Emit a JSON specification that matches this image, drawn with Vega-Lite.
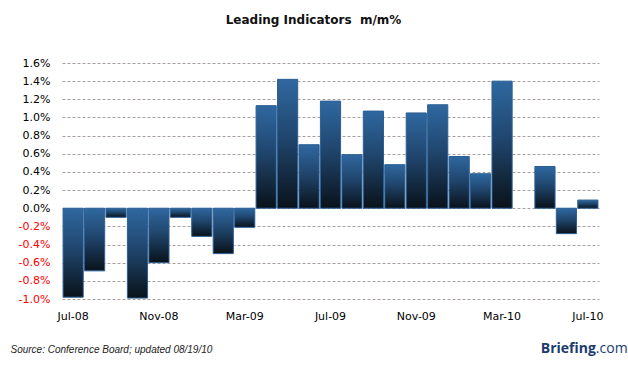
{
  "$schema": "https://vega.github.io/schema/vega-lite/v6.json",
  "width": 537,
  "height": 236,
  "autosize": {"type": "none"},
  "padding": {"left": 62, "top": 63, "right": 29, "bottom": 70},
  "background": "white",
  "title": {
    "text": "Leading Indicators\u00a0 m/m%",
    "font": "DejaVu Sans",
    "fontSize": 12,
    "fontWeight": "bold",
    "color": "#111111",
    "anchor": "middle",
    "dx": -17,
    "offset": 30
  },
  "config": {"view": {"stroke": null}},
  "layer": [
    {
      "data": {
        "values": [
          {"month": "Jul-08", "value": -0.98},
          {"month": "Aug-08", "value": -0.69},
          {"month": "Sep-08", "value": -0.10},
          {"month": "Oct-08", "value": -0.99},
          {"month": "Nov-08", "value": -0.60},
          {"month": "Dec-08", "value": -0.10},
          {"month": "Jan-09", "value": -0.31},
          {"month": "Feb-09", "value": -0.50},
          {"month": "Mar-09", "value": -0.21},
          {"month": "Apr-09", "value": 1.13},
          {"month": "May-09", "value": 1.42},
          {"month": "Jun-09", "value": 0.70},
          {"month": "Jul-09", "value": 1.18},
          {"month": "Aug-09", "value": 0.59},
          {"month": "Sep-09", "value": 1.07},
          {"month": "Oct-09", "value": 0.48},
          {"month": "Nov-09", "value": 1.05},
          {"month": "Dec-09", "value": 1.14},
          {"month": "Jan-10", "value": 0.57},
          {"month": "Feb-10", "value": 0.38},
          {"month": "Mar-10", "value": 1.40},
          {"month": "Apr-10", "value": null},
          {"month": "May-10", "value": 0.46},
          {"month": "Jun-10", "value": -0.28},
          {"month": "Jul-10", "value": 0.09}
        ]
      },
      "mark": {
        "type": "bar",
        "stroke": "#2a5f96",
        "strokeWidth": 1,
        "fill": {
          "gradient": "linear",
          "x1": 0, "y1": 0, "x2": 0, "y2": 1,
          "stops": [
            {"offset": 0, "color": "#2f68a0"},
            {"offset": 0.45, "color": "#20466e"},
            {"offset": 1, "color": "#09121a"}
          ]
        }
      },
      "encoding": {
        "x": {
          "field": "month",
          "type": "ordinal",
          "sort": null,
          "scale": {
            "domain": ["Jul-08","Aug-08","Sep-08","Oct-08","Nov-08","Dec-08","Jan-09","Feb-09","Mar-09","Apr-09","May-09","Jun-09","Jul-09","Aug-09","Sep-09","Oct-09","Nov-09","Dec-09","Jan-10","Feb-10","Mar-10","Apr-10","May-10","Jun-10","Jul-10"],
            "paddingInner": 0.06,
            "paddingOuter": 0.05
          },
          "axis": {
            "values": ["Jul-08","Nov-08","Mar-09","Jul-09","Nov-09","Mar-10","Jul-10"],
            "labelAngle": 0,
            "labelOverlap": false,
            "domain": false,
            "ticks": false,
            "grid": false,
            "labelFont": "DejaVu Sans",
            "labelFontSize": 11,
            "labelColor": "#000000",
            "labelPadding": 11,
            "title": "Source: Conference Board; updated 08/19/10",
            "titleFont": "Liberation Sans",
            "titleFontSize": 10,
            "titleFontStyle": "italic",
            "titleFontWeight": "normal",
            "titleColor": "#222222",
            "titleAnchor": "start",
            "titleAlign": "left",
            "titleBaseline": "alphabetic",
            "titleX": -52,
            "titleY": 53
          }
        },
        "y": {
          "field": "value",
          "type": "quantitative",
          "scale": {"domain": [-1, 1.6], "nice": false, "zero": false},
          "axis": {
            "values": [-1, -0.8, -0.6, -0.4, -0.2, 0, 0.2, 0.4, 0.6, 0.8, 1, 1.2, 1.4, 1.6],
            "tickCount": 14,
            "labelExpr": "replace(format(datum.value, '.1f'), '\u2212', '-') + '%'",
            "labelColor": {"condition": {"test": "datum.value < 0", "value": "#ff0000"}, "value": "#000000"},
            "labelOverlap": false,
            "labelFont": "DejaVu Sans",
            "labelFontSize": 11,
            "labelPadding": 12,
            "domain": false,
            "ticks": false,
            "grid": true,
            "gridDash": [3, 2],
            "gridColor": "#a89e9e",
            "gridWidth": 1,
            "title": null
          }
        }
      }
    },
    {
      "data": {"values": [{"t": "Briefing"}]},
      "mark": {"type": "text", "align": "right", "baseline": "alphabetic", "dx": 8, "font": "Open Sans", "fontSize": 14, "fontWeight": "bold", "color": "#1b3b6f"},
      "encoding": {
        "x": {"datum": "Jul-10", "type": "ordinal"},
        "y": {"datum": -1.6, "type": "quantitative"},
        "text": {"field": "t"}
      }
    },
    {
      "data": {"values": [{"t": ".com"}]},
      "mark": {"type": "text", "align": "left", "baseline": "alphabetic", "dx": 8, "font": "Open Sans", "fontSize": 14, "fontWeight": "normal", "color": "#1b3b6f"},
      "encoding": {
        "x": {"datum": "Jul-10", "type": "ordinal"},
        "y": {"datum": -1.6, "type": "quantitative"},
        "text": {"field": "t"}
      }
    }
  ]
}
